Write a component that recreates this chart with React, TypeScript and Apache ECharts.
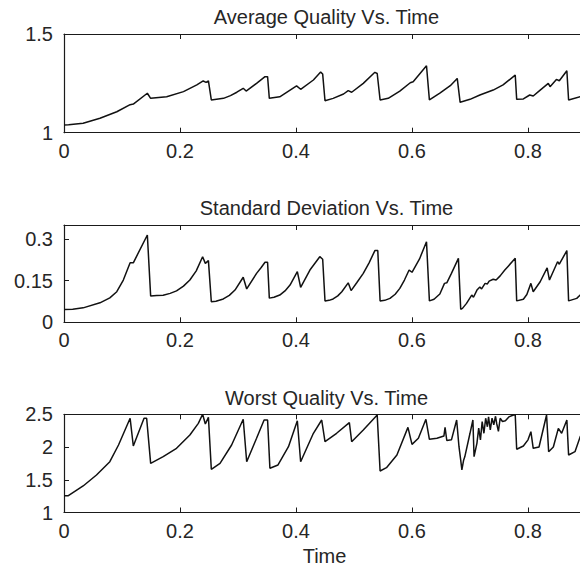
import React, { useEffect, useRef } from "react";
import * as echarts from "echarts";

// ---- Data ----
const avgTime = [0, 0.008, 0.033, 0.062, 0.091, 0.114, 0.1195, 0.1437, 0.1494, 0.177, 0.206, 0.229, 0.24, 0.245, 0.249, 0.254, 0.275, 0.287, 0.298, 0.309, 0.314, 0.332, 0.3466, 0.351, 0.354, 0.372, 0.401, 0.408, 0.43, 0.4425, 0.446, 0.45, 0.464, 0.482, 0.49, 0.496, 0.516, 0.536, 0.54, 0.545, 0.559, 0.579, 0.597, 0.602, 0.625, 0.63, 0.648, 0.666, 0.678, 0.683, 0.7, 0.717, 0.74, 0.757, 0.778, 0.7805, 0.792, 0.803, 0.809, 0.821, 0.835, 0.838, 0.849, 0.854, 0.867, 0.87, 0.89, 0.9];
const avgQuality = [1.039, 1.04, 1.048, 1.073, 1.106, 1.142, 1.145, 1.2, 1.174, 1.182, 1.208, 1.242, 1.262, 1.255, 1.262, 1.166, 1.174, 1.188, 1.205, 1.225, 1.211, 1.25, 1.284, 1.284, 1.174, 1.182, 1.237, 1.22, 1.267, 1.307, 1.297, 1.162, 1.174, 1.196, 1.213, 1.205, 1.25, 1.306, 1.3, 1.166, 1.174, 1.211, 1.253, 1.258, 1.339, 1.166, 1.2, 1.238, 1.275, 1.154, 1.169, 1.191, 1.216, 1.242, 1.292, 1.169, 1.171, 1.191, 1.186, 1.216, 1.25, 1.233, 1.27, 1.263, 1.314, 1.166, 1.182, 1.19];

const sdTime = [0, 0.015, 0.033, 0.062, 0.079, 0.091, 0.1023, 0.114, 0.1195, 0.1437, 0.1494, 0.16, 0.171, 0.183, 0.194, 0.206, 0.217, 0.228, 0.239, 0.2437, 0.249, 0.254, 0.262, 0.2747, 0.285, 0.2948, 0.309, 0.315, 0.332, 0.34, 0.3466, 0.351, 0.354, 0.362, 0.372, 0.381, 0.3897, 0.4023, 0.408, 0.424, 0.441, 0.446, 0.45, 0.457, 0.464, 0.472, 0.479, 0.49, 0.495, 0.505, 0.516, 0.526, 0.536, 0.541, 0.545, 0.553, 0.562, 0.571, 0.579, 0.587, 0.595, 0.6, 0.613, 0.625, 0.63, 0.638, 0.648, 0.656, 0.66, 0.668, 0.68, 0.684, 0.687, 0.694, 0.703, 0.706, 0.712, 0.717, 0.72, 0.726, 0.73, 0.733, 0.74, 0.745, 0.752, 0.76, 0.766, 0.778, 0.7805, 0.792, 0.798, 0.805, 0.809, 0.821, 0.833, 0.837, 0.851, 0.854, 0.867, 0.87, 0.884, 0.89, 0.9];
const sdValues = [0.046, 0.047, 0.052, 0.07, 0.088, 0.11, 0.152, 0.214, 0.214, 0.314, 0.095, 0.096, 0.097, 0.104, 0.113, 0.13, 0.152, 0.185, 0.236, 0.212, 0.222, 0.074, 0.076, 0.084, 0.097, 0.116, 0.162, 0.12, 0.176, 0.197, 0.216, 0.216, 0.087, 0.09, 0.098, 0.113, 0.134, 0.182, 0.126, 0.188, 0.236, 0.227, 0.077, 0.079, 0.084, 0.095, 0.11, 0.142, 0.114, 0.143, 0.176, 0.214, 0.258, 0.258, 0.077, 0.079, 0.086, 0.101, 0.122, 0.152, 0.188, 0.18, 0.228, 0.29, 0.077, 0.083, 0.102, 0.14, 0.142, 0.176, 0.23, 0.047, 0.05, 0.068, 0.098, 0.09, 0.116, 0.127, 0.12, 0.14, 0.138, 0.148, 0.155, 0.152, 0.167, 0.188, 0.202, 0.23, 0.077, 0.083, 0.1, 0.14, 0.11, 0.146, 0.196, 0.152, 0.218, 0.209, 0.258, 0.077, 0.086, 0.098, 0.115];

const worstTime = [0, 0.0075, 0.033, 0.056, 0.079, 0.094, 0.114, 0.1195, 0.138, 0.1425, 0.1494, 0.171, 0.194, 0.217, 0.2316, 0.239, 0.2437, 0.249, 0.254, 0.269, 0.289, 0.309, 0.315, 0.332, 0.345, 0.351, 0.355, 0.369, 0.387, 0.4023, 0.408, 0.43, 0.4443, 0.45, 0.47, 0.492, 0.496, 0.516, 0.54, 0.545, 0.556, 0.574, 0.593, 0.6, 0.611, 0.624, 0.63, 0.643, 0.655, 0.657, 0.66, 0.668, 0.677, 0.681, 0.684, 0.686, 0.689, 0.691, 0.7, 0.705, 0.707, 0.712, 0.715, 0.718, 0.721, 0.724, 0.727, 0.73, 0.732, 0.735, 0.738, 0.741, 0.744, 0.746, 0.749, 0.752, 0.756, 0.761, 0.767, 0.775, 0.778, 0.7805, 0.792, 0.8, 0.805, 0.809, 0.819, 0.832, 0.8356, 0.8437, 0.8523, 0.858, 0.867, 0.87, 0.881, 0.89, 0.9];
const worstQuality = [1.257, 1.257, 1.405, 1.573, 1.776, 2.031, 2.439, 2.016, 2.439, 2.439, 1.751, 1.853, 1.98, 2.184, 2.362, 2.5, 2.352, 2.454, 1.66, 1.751, 2.031, 2.424, 1.776, 2.133, 2.413, 2.413, 1.675, 1.726, 2.005, 2.402, 1.776, 2.21, 2.413, 2.082, 2.21, 2.372, 2.082, 2.26, 2.49, 1.634, 1.685, 1.878, 2.3, 2.041, 2.133, 2.424, 2.118, 2.133, 2.168, 2.3, 2.1, 2.11, 2.413, 2.005, 1.8, 1.65, 1.8, 1.85, 2.21, 2.413, 1.853, 2.06, 2.29, 2.11, 2.39, 2.21, 2.44, 2.31, 2.46, 2.26, 2.44, 2.34, 2.47, 2.36, 2.24, 2.44, 2.39, 2.4, 2.46, 2.49, 2.49, 1.966, 2.016, 2.11, 2.235, 1.98, 2.0, 2.49, 1.929, 2.0, 2.285, 2.21, 2.413, 1.878, 1.929, 2.158, 2.3];

const xTicks = [0, 0.2, 0.4, 0.6, 0.8];
const plotTitles = ["Average Quality Vs. Time", "Standard Deviation Vs. Time", "Worst Quality Vs. Time"];
const yRanges = [
  { min: 1, max: 1.5, interval: 0.5 },
  { min: 0, max: 0.35, interval: 0.15 },
  { min: 1, max: 2.5, interval: 0.5 },
];
const xLabelName = "Time";

const FONT = "'Liberation Sans', Arial, Helvetica, sans-serif";
const TEXT = "#262626";
const AXIS = "#1a1a1a";

function zip(xs: number[], ys: number[]) {
  return xs.map((x, i) => [x, ys[i]]);
}

function fmt(v: number) {
  return String(parseFloat(v.toFixed(3)));
}

export default function App() {
  const ref = useRef<HTMLDivElement>(null);
  useEffect(() => {
    if (!ref.current) return;
    const chart = echarts.init(ref.current, undefined, { renderer: "svg" });
    const grids = [
      { left: 64, top: 34, width: 580, height: 98.7 },
      { left: 64, top: 225, width: 580, height: 97.3 },
      { left: 64, top: 414.3, width: 580, height: 98.2 },
    ].map((g) => ({ ...g, containLabel: false, outerBoundsMode: "none", show: false }));

    const axisLine = { show: true, onZero: false, lineStyle: { color: AXIS, width: 1.2 } };
    const axisTick = { show: true, inside: true, length: 5, lineStyle: { color: AXIS, width: 1 } };

    const xAxes: any[] = [];
    grids.forEach((_, i) => {
      xAxes.push({
        type: "value", gridIndex: i, position: "bottom", min: 0, max: 1, interval: 0.2,
        axisLine, axisTick, splitLine: { show: false },
        axisLabel: {
          margin: 8, fontSize: 20, fontFamily: FONT, color: TEXT,
          formatter: (v: number) => (xTicks.some((t) => Math.abs(t - v) < 1e-6) ? fmt(v) : ""),
        },
      });
      xAxes.push({
        type: "value", gridIndex: i, position: "top", min: 0, max: 1, interval: 0.2,
        axisLine, axisTick, splitLine: { show: false }, axisLabel: { show: false },
      });
    });

    const yAxes = yRanges.map((r, i) => ({
      type: "value", gridIndex: i, position: "left", min: r.min, max: r.max, interval: r.interval,
      axisLine, axisTick, splitLine: { show: false },
      axisLabel: {
        margin: 11, fontSize: 20, fontFamily: FONT, color: TEXT,
        formatter: (v: number) => {
          const k = (v - r.min) / r.interval;
          return Math.abs(k - Math.round(k)) < 1e-6 ? fmt(v) : "";
        },
      },
    }));

    const lineStyle = { color: "#111111", width: 1.5 };
    const series = [
      zip(avgTime, avgQuality),
      zip(sdTime, sdValues),
      zip(worstTime, worstQuality),
    ].map((d, i) => ({
      type: "line", xAxisIndex: i * 2, yAxisIndex: i, data: d,
      showSymbol: false, symbol: "none", lineStyle, clip: true, silent: true,
    }));

    const titleY = [17.3, 207.7, 397.7];
    const graphic: any[] = plotTitles.map((t, i) => ({
      type: "text", x: 326.5, y: titleY[i],
      style: { text: t, fontSize: 20, fontFamily: FONT, fill: TEXT, align: "center", verticalAlign: "middle" },
    }));
    graphic.push({
      type: "text", x: 324.5, y: 556,
      style: { text: xLabelName, fontSize: 20, fontFamily: FONT, fill: TEXT, align: "center", verticalAlign: "middle" },
    });

    chart.setOption({
      animation: false,
      backgroundColor: "#ffffff",
      grid: grids,
      xAxis: xAxes,
      yAxis: yAxes,
      series,
      graphic,
    });
    return () => chart.dispose();
  }, []);
  return (
    <div
      ref={ref}
      style={{ position: "fixed", left: 0, top: 0, width: 580, height: 568, overflow: "hidden", background: "#fff" }}
    />
  );
}
